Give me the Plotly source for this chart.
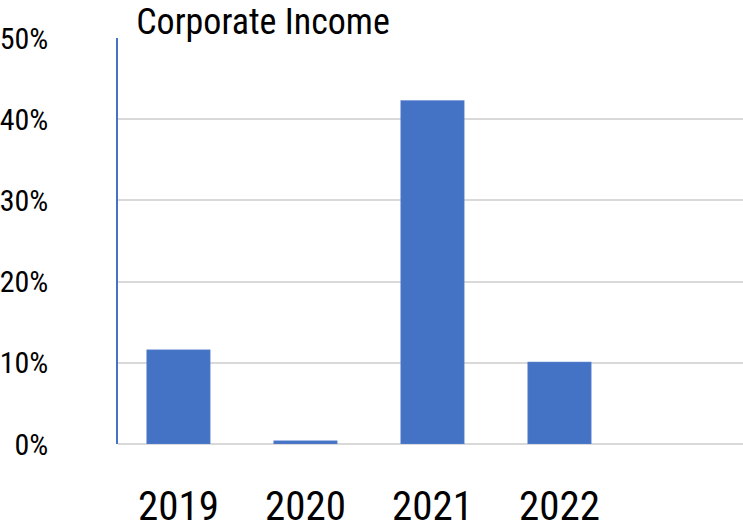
import plotly.graph_objects as go

years = ["2019", "2020", "2021", "2022"]
growth = [0.116, 0.004, 0.423, 0.101]
y_ticks = [0, 0.1, 0.2, 0.3, 0.4, 0.5]
y_tick_labels = ["0%", "10%", "20%", "30%", "40%", "50%"]

FONT = "Liberation Sans Narrow, Roboto Condensed, Arial Narrow, Liberation Sans, sans-serif"

fig = go.Figure(go.Bar(
    x=years, y=growth,
    marker=dict(color="#4472C4", line=dict(color="#6A8FD6", width=0.5)),
    width=0.5,
))

fig.update_layout(
    width=743, height=530,
    margin=dict(l=118, r=0, t=38, b=86, autoexpand=False),
    paper_bgcolor="white", plot_bgcolor="white",
    showlegend=False,
    title=dict(text="Corporate Income", x=263/743, xanchor="center", xref="container",
               y=1-21/530, yanchor="middle", yref="container",
               font=dict(family=FONT, size=36, color="black")),
    font=dict(family=FONT, color="black"),
)
fig.update_xaxes(
    type="category", range=[-0.476, 4.445], automargin=False,
    showline=False, showgrid=False, zeroline=False,
    tickfont=dict(size=41, color="black"),
    ticks="", ticklabelstandoff=34,
)
fig.update_yaxes(
    range=[0, 0.5], tickvals=y_ticks, ticktext=y_tick_labels, automargin=False,
    showgrid=True, gridcolor="#D9D9D9", gridwidth=1.5,
    zeroline=True, zerolinecolor="#D9D9D9", zerolinewidth=1.5,
    showline=True, linecolor="#4472C4", linewidth=1.5,
    tickfont=dict(size=30, color="black"),
    ticks="", ticklabelstandoff=62,
)

fig.write_html("out.html", config={"displayModeBar": False},
               post_script="document.body.style.margin='0';document.body.style.overflow='hidden';")
